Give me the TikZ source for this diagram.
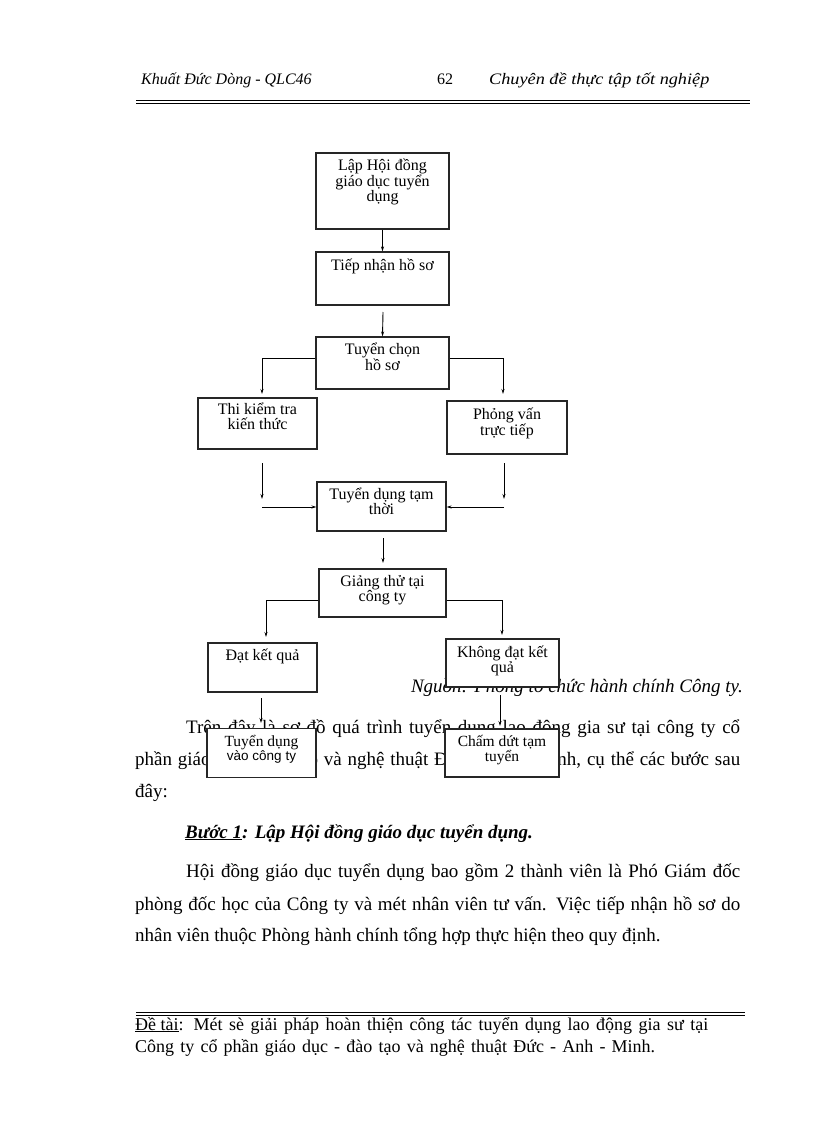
\documentclass[tikz,border=0pt]{standalone}
\usepackage{fontspec}
\usepackage{graphicx}
\setmainfont{Liberation Serif}
\newfontfamily\sansf{Liberation Sans}
\usetikzlibrary{arrows.meta}
\newcommand{\fsz}[2]{\fontsize{#1}{#2}\selectfont}
\tikzset{
  box/.style={draw=black!85, line width=1.1pt, fill=white, inner sep=0pt},
  btext/.style={anchor=base, inner sep=0pt, font=\fsz{16}{15}},
  arr/.style={line width=0.9pt, -{Stealth[length=5pt,width=3pt]}},
  pline/.style={line width=0.9pt},
  txt/.style={anchor=base west, inner sep=0pt, font=\fsz{19}{19}},
  hdr/.style={anchor=base west, inner sep=0pt, font=\fsz{16}{16}\itshape},
  ftr/.style={anchor=base west, inner sep=0pt, font=\fsz{18}{18}},
}
\begin{document}
\begin{tikzpicture}[x=1pt,y=-1pt]
\useasboundingbox[fill=white] (0,0) rectangle (816,1123);

% header
\node[hdr] (h1) at (141,85) {Khuất Đức Dòng - QLC46};
\node[anchor=base west, inner sep=0pt, font=\fsz{16}{16}] (h2) at (437,85) {62};
\node[hdr] (h3) at (489,85) {\scalebox{1.14}[1]{Chuyên đề thực tập tốt nghiệp}};
\draw[line width=1pt] (136,100.8) -- (750,100.8);
\draw[line width=1pt] (136,103.6) -- (750,103.6);

% body text (partly hidden under the boxes)
\node[anchor=base east, inner sep=0pt, font=\fsz{19}{19}\itshape] (src) at (743,692) {Nguồn: Phòng tổ chức hành chính Công ty.};
\node[txt] (p1) at (186,733) {\makebox[554pt][s]{Trên đây là sơ đồ quá trình tuyển dụng lao động gia sư tại công ty cổ}};
\node[txt] (p2) at (135,765) {\makebox[605pt][s]{phần giáo dục - đào tạo và nghệ thuật Đức - Anh - Minh, cụ thể các bước sau}};
\node[txt] (p3) at (135,797) {đây:};
\node[txt, font=\fsz{19}{19}\bfseries\itshape] (b1t) at (185,838) {\underline{Bước 1}: Lập Hội đồng giáo dục tuyển dụng.};
\node[txt] (q1) at (186,877) {\makebox[554pt][s]{Hội đồng giáo dục tuyển dụng bao gồm 2 thành viên là Phó Giám đốc}};
\node[txt] (q2) at (135,910) {\makebox[605pt][s]{phòng đốc học của Công ty và mét nhân viên tư vấn. Việc tiếp nhận hồ sơ do}};
\node[txt] (q3) at (135,941) {nhân viên thuộc Phòng hành chính tổng hợp thực hiện theo quy định.};

% footer
\draw[line width=1pt] (136,1012) -- (745,1012);
\draw[line width=1pt] (136,1015) -- (745,1015);
\node[ftr] (f1) at (135,1030) {\makebox[573pt][s]{\underline{Đề tài}: Mét sè giải pháp hoàn thiện công tác tuyển dụng lao động gia sư tại}};
\node[ftr] (f2) at (135,1052) {\makebox[520pt][s]{Công ty cổ phần giáo dục - đào tạo và nghệ thuật Đức - Anh - Minh.}};

% boxes
\node[box, minimum width=133pt, minimum height=76pt] (b1) at (382.5,191) {};
\node[box, minimum width=133pt, minimum height=53pt] (b2) at (382.5,278.5) {};
\node[box, minimum width=133pt, minimum height=52pt] (b3) at (382.5,363) {};
\node[box, minimum width=119pt, minimum height=51pt] (b4) at (257.5,423.5) {};
\node[box, minimum width=120pt, minimum height=53pt] (b5) at (507,427.5) {};
\node[box, minimum width=129pt, minimum height=49pt] (b6) at (381.5,506.5) {};
\node[box, minimum width=127pt, minimum height=48pt] (b7) at (382.5,593) {};
\node[box, minimum width=109pt, minimum height=49pt] (b8) at (262.5,667.5) {};
\node[box, minimum width=113pt, minimum height=48pt] (b9) at (502.5,663) {};
\node[box, minimum width=109pt, minimum height=49pt] (b10) at (261.5,753) {};
\node[box, minimum width=114pt, minimum height=48pt] (b11) at (502,753) {};

% box texts
\node[btext] (t1) at ([yshift=-18pt]b1.north) {\parbox[t]{128pt}{\centering Lập Hội đồng\\giáo dục tuyển\\dụng}};
\node[btext] (t2) at ([yshift=-19pt]b2.north) {\parbox[t]{128pt}{\centering Tiếp nhận hồ sơ}};
\node[btext] (t3) at ([yshift=-18pt]b3.north) {\parbox[t]{128pt}{\centering Tuyển chọn\\hồ sơ}};
\node[btext] (t4) at ([yshift=-17pt]b4.north) {\parbox[t]{115pt}{\centering Thi kiểm tra\\kiến thức}};
\node[btext] (t5) at ([yshift=-19pt]b5.north) {\parbox[t]{115pt}{\centering Phỏng vấn\\trực tiếp}};
\node[btext] (t6) at ([yshift=-18pt]b6.north) {\parbox[t]{125pt}{\centering Tuyển dụng tạm\\thời}};
\node[btext] (t7) at ([yshift=-18pt]b7.north) {\parbox[t]{123pt}{\centering Giảng thử tại\\công ty}};
\node[btext] (t8) at ([yshift=-18pt]b8.north) {\parbox[t]{105pt}{\centering Đạt kết quả}};
\node[btext] (t9) at ([yshift=-19pt]b9.north) {\parbox[t]{110pt}{\centering Không đạt kết\\quả}};
\node[btext, font=\fsz{15.5}{13.5}] (t10) at ([yshift=-19pt]b10.north) {\parbox[t]{106pt}{\centering Tuyển dụng\\{\sansf\fsz{13.5}{13.5}vào công ty}}};
\node[btext, font=\fsz{15.5}{13.5}] (t11) at ([yshift=-18pt]b11.north) {\parbox[t]{111pt}{\centering Chấm dứt tạm\\tuyển}};

% connector helper coordinates
\coordinate (c2) at (383,312);
\coordinate (l1) at (262,358);
\coordinate (l1e) at (262,394);
\coordinate (r1) at (503,358);
\coordinate (r1e) at (503,394);
\coordinate (l2s) at (262,463);
\coordinate (l2e) at (262,499);
\coordinate (l3s) at (262,507);
\coordinate (r2s) at (504,463);
\coordinate (r2e) at (504,499);
\coordinate (r3s) at (504,507);
\coordinate (c9) at (383,538);
\coordinate (c9e) at (383,563);
\coordinate (l4) at (266,600);
\coordinate (l4e) at (266,637);
\coordinate (r4) at (502,600);
\coordinate (r4e) at (502,635);
\coordinate (l5s) at (261,698);
\coordinate (l5e) at (261,723);
\coordinate (r5s) at (500,695);
\coordinate (r5e) at (500,726);

% connectors
\draw[arr] (b1.south) -- (b2.north);
\draw[arr] (c2) -- (b3.north);
\draw[pline] (b3.west |- l1) -- (l1);
\draw[arr] (l1) -- (l1e);
\draw[pline] (b3.east |- r1) -- (r1);
\draw[arr] (r1) -- (r1e);
\draw[arr] (l2s) -- (l2e);
\draw[arr] (l3s) -- (b6.west |- l3s);
\draw[arr] (r2s) -- (r2e);
\draw[arr] (r3s) -- (b6.east |- r3s);
\draw[arr] (c9) -- (c9e);
\draw[pline] (b7.west |- l4) -- (l4);
\draw[arr] (l4) -- (l4e);
\draw[pline] (b7.east |- r4) -- (r4);
\draw[arr] (r4) -- (r4e);
\draw[arr] (l5s) -- (l5e);
\draw[arr] (r5s) -- (r5e);
\end{tikzpicture}
\end{document}
